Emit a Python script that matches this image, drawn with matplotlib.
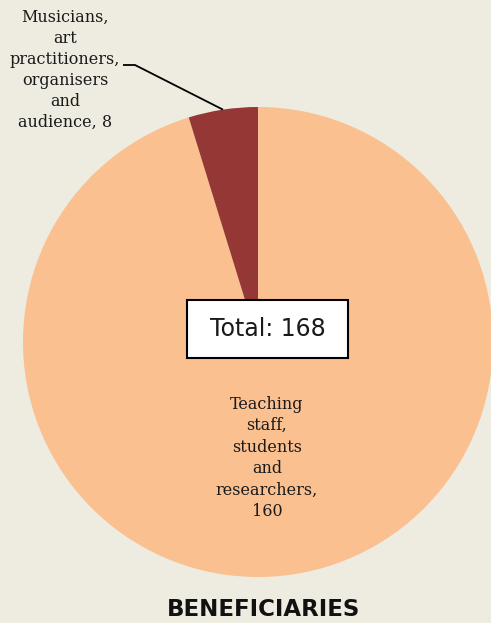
import matplotlib
matplotlib.use("Agg")
import matplotlib.pyplot as plt
from matplotlib.patches import Rectangle
import numpy as np

categories = ["Teaching\nstaff,\nstudents\nand\nresearchers,", "Musicians,\nart\npractitioners,\norganisers\nand\naudience,"]
values = [160, 8]
colors = ["#FAC090", "#953735"]
title = "BENEFICIARIES"

W, H = 491, 623
bg = "#EEEBE0"
fig = plt.figure(figsize=(W / 100, H / 100), dpi=100, facecolor=bg)
ax = fig.add_axes([0, 0, 1, 1])
ax.set_facecolor(bg)

cx, cy, r = 258, H - 342, 235
ax.pie(values, colors=colors, startangle=90, counterclock=False,
       center=(cx, cy), radius=r, frame=True,
       wedgeprops=dict(linewidth=0))
ax.set_xlim(0, W)
ax.set_ylim(0, H)
ax.axis("off")

serif = ["DejaVu Serif"]
# big slice label
ax.text(267, H - 458, f"{categories[0]}\n{values[0]}", ha="center", va="center",
        fontsize=11.5, family=serif, linespacing=1.35, color="#1a1a1a")
# small slice label
ax.text(65, H - 70, f"{categories[1]} {values[1]}", ha="center", va="center",
        fontsize=11.5, family=serif, linespacing=1.3, color="#1a1a1a")
# leader line
mid = np.deg2rad(90 + values[1] / sum(values) * 180)
ex, ey = cx + r * np.cos(mid), cy + r * np.sin(mid)
ax.plot([123, 135, ex], [H - 65, H - 65, ey], color="black", lw=1.3,
        solid_capstyle="butt")

# total box
ax.add_patch(Rectangle((187, H - 358), 161, 58, facecolor="white",
                       edgecolor="black", lw=1.5, zorder=5))
ax.text(267.5, H - 329, f"Total: {sum(values)}", ha="center", va="center",
        fontsize=17, family=["DejaVu Sans"], color="#1a1a1a", zorder=6)

ax.text(264, H - 609, title, ha="center", va="center", fontsize=16.5,
        fontweight="bold", family=["DejaVu Sans"], color="#111111")

fig.savefig("out.png", dpi=100, facecolor=bg)
